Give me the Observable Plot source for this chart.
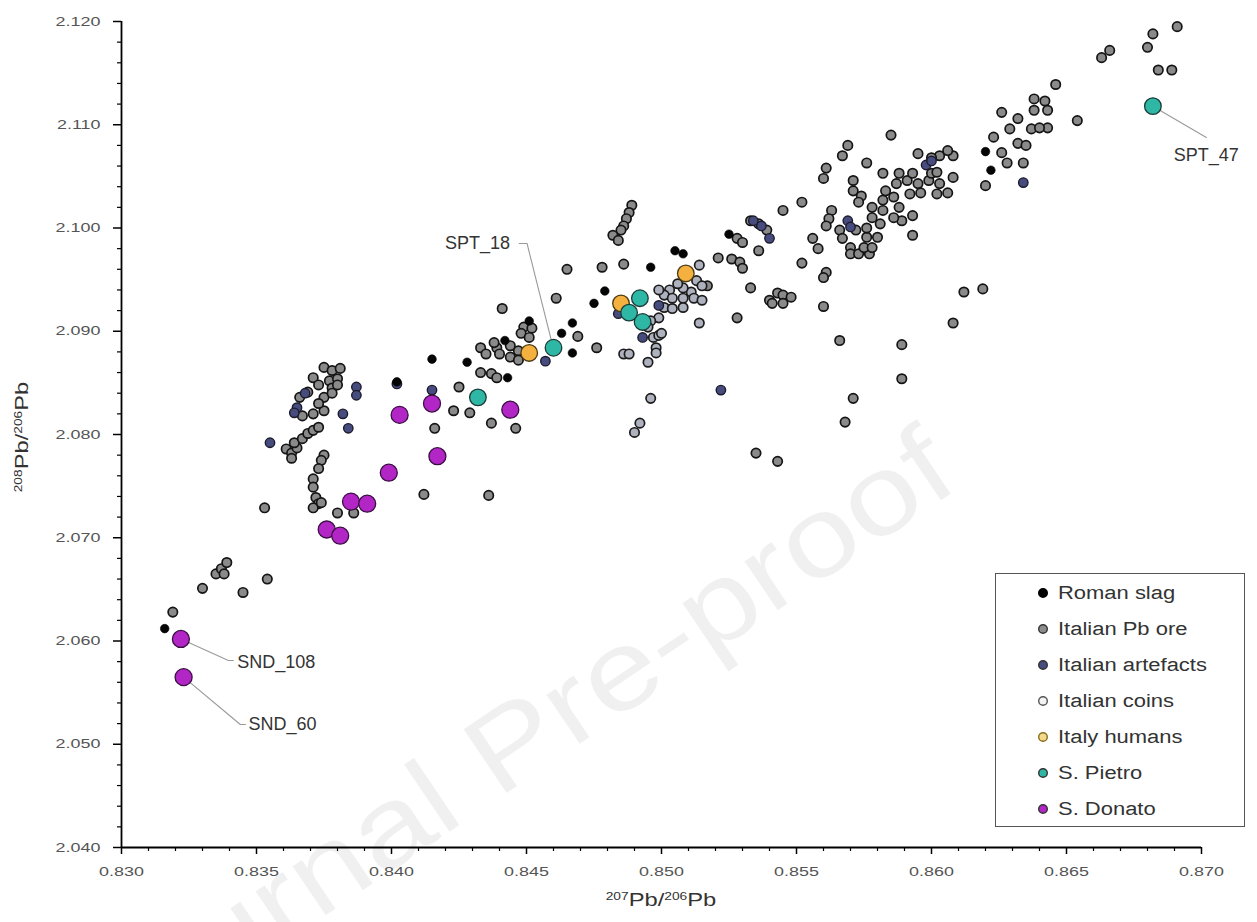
<!DOCTYPE html>
<html>
<head>
<meta charset="utf-8">
<script src="https://cdn.jsdelivr.net/npm/d3@7"></script>
<script src="https://cdn.jsdelivr.net/npm/@observablehq/plot@0.6"></script>
<style>
html, body { margin: 0; padding: 0; background: #fff; }
#wrap { position: relative; width: 1257px; height: 922px; overflow: hidden; font-family: "Liberation Sans", Arial, sans-serif; }
#wrap > svg.chart { position: absolute; left: 0; top: 0; }
.legend { position: absolute; left: 995px; top: 573px; width: 250px; height: 254px; border: 1.5px solid #555; box-sizing: border-box; background: #fff; }
.legend .row { position: absolute; left: 0; height: 24px; width: 250px; }
.legend .row svg { position: absolute; left: 37px; top: 2px; }
.legend .row span { position: absolute; left: 62px; top: 0; line-height: 24px; font-size: 18px; color: #333; white-space: nowrap; transform: scaleX(1.22); transform-origin: 0 50%; }
.atitle { position: absolute; height: 26px; line-height: 26px; text-align: center; font-size: 19px; color: #333; white-space: nowrap; }
.atitle sup { font-size: 11px; vertical-align: 0.55em; line-height: 0; }
.wm { position: absolute; left: 0; top: 0; pointer-events: none; }
</style>
</head>
<body>
<div id="wrap"></div>
<script>
// ---------- data ----------
const romanSlag = [
  [0.8316,2.0612],[0.8402,2.0851],[0.8415,2.0873],[0.8428,2.0870],[0.8442,2.0891],[0.8443,2.0855],
  [0.8451,2.0910],[0.8463,2.0898],[0.8467,2.0908],[0.8467,2.0879],[0.8475,2.0927],[0.8479,2.0939],
  [0.8496,2.0962],[0.8508,2.0975],[0.8505,2.0978],[0.8525,2.0994],[0.8620,2.1074],[0.8622,2.1056]
];
const italianOre = [
  [0.8319,2.0628],[0.8330,2.0651],[0.8335,2.0665],[0.8337,2.0670],[0.8339,2.0676],[0.8338,2.0665],[0.8345,2.0647],[0.8354,2.0660],[0.8353,2.0729],
  [0.8361,2.0786],[0.8363,2.0782],[0.8365,2.0787],[0.8364,2.0792],[0.8367,2.0796],[0.8369,2.0801],[0.8371,2.0804],[0.8373,2.0807],[0.8363,2.0777],
  [0.8375,2.0780],[0.8374,2.0775],[0.8373,2.0767],[0.8371,2.0757],[0.8371,2.0749],[0.8372,2.0739],[0.8373,2.0733],[0.8371,2.0729],[0.8374,2.0734],[0.8380,2.0724],[0.8386,2.0724],
  [0.8371,2.0855],[0.8375,2.0865],[0.8378,2.0862],[0.8381,2.0864],[0.8377,2.0852],[0.8380,2.0854],[0.8378,2.0845],[0.8375,2.0836],[0.8375,2.0823],[0.8373,2.0830],[0.8371,2.0820],[0.8367,2.0818],[0.8366,2.0836],[0.8369,2.0841],[0.8373,2.0848],[0.8378,2.0840],[0.8380,2.0848],
  [0.8412,2.0742],[0.8425,2.0846],[0.8423,2.0823],[0.8429,2.0821],[0.8437,2.0811],[0.8446,2.0806],[0.8416,2.0806],[0.8436,2.0741],
  [0.8489,2.1022],[0.8488,2.1015],[0.8487,2.1009],[0.8486,2.1002],[0.8485,2.0998],[0.8482,2.0993],[0.8484,2.0988],
  [0.8465,2.0960],[0.8478,2.0962],[0.8486,2.0965],[0.8461,2.0932],[0.8441,2.0922],[0.8469,2.0895],[0.8476,2.0884],
  [0.8449,2.0904],[0.8452,2.0903],[0.8448,2.0898],[0.8451,2.0894],[0.8444,2.0886],[0.8447,2.0881],[0.8444,2.0875],[0.8447,2.0872],[0.8439,2.0884],[0.8438,2.0889],[0.8433,2.0884],[0.8435,2.0878],[0.8440,2.0878],[0.8433,2.0860],[0.8437,2.0859],[0.8439,2.0855],
  [0.8528,2.0913],[0.8533,2.0942],[0.8521,2.0971],[0.8526,2.0970],[0.8529,2.0967],[0.8530,2.0961],[0.8528,2.0990],[0.8533,2.1007],[0.8536,2.1004],[0.8539,2.0998],[0.8536,2.0978],[0.8540,2.0930],[0.8543,2.0937],[0.8530,2.0986],[0.8517,2.0944],
  [0.8545,2.0935],[0.8548,2.0933],[0.8541,2.0927],[0.8545,2.0927],[0.8556,2.0990],[0.8558,2.0980],[0.8552,2.0966],[0.8561,2.0957],[0.8560,2.0952],[0.8560,2.0924],[0.8566,2.0891],[0.8589,2.0887],[0.8589,2.0854],[0.8571,2.0835],[0.8568,2.0812],[0.8535,2.0782],[0.8543,2.0774],[0.8612,2.0938],[0.8608,2.0908],[0.8619,2.0941],
  [0.8569,2.1080],[0.8567,2.1070],[0.8561,2.1058],[0.8560,2.1048],[0.8576,2.1063],[0.8582,2.1053],[0.8571,2.1046],[0.8571,2.1036],[0.8574,2.1031],[0.8573,2.1025],[0.8552,2.1025],[0.8545,2.1017],[0.8563,2.1017],[0.8562,2.1009],[0.8561,2.1002],[0.8566,2.0998],[0.8567,2.0990],[0.8570,2.0981],[0.8570,2.0975],[0.8573,2.0975],[0.8577,2.0975],[0.8575,2.0981],[0.8578,2.0981],[0.8576,2.0991],[0.8580,2.0991],[0.8572,2.0998],[0.8576,2.1000],[0.8581,2.1004],[0.8578,2.1010],[0.8582,2.1017],[0.8578,2.1020],[0.8582,2.1027],[0.8586,2.1030],[0.8583,2.1036],[0.8587,2.1043],[0.8588,2.1053],[0.8591,2.1046],[0.8593,2.1053],[0.8595,2.1043],[0.8592,2.1033],[0.8588,2.1020],[0.8589,2.1007],[0.8586,2.1010],[0.8593,2.1012],[0.8593,2.0993],[0.8596,2.1034],[0.8599,2.1046],[0.8600,2.1053],[0.8603,2.1043],[0.8602,2.1033],[0.8606,2.1034],[0.8608,2.1049],[0.8595,2.1072],[0.8603,2.1070],[0.8608,2.1070],[0.8606,2.1075],
  [0.8646,2.1139],[0.8638,2.1125],[0.8642,2.1123],[0.8638,2.1114],[0.8643,2.1114],[0.8626,2.1112],[0.8632,2.1106],[0.8629,2.1096],[0.8637,2.1096],[0.8643,2.1097],[0.8640,2.1097],[0.8654,2.1104],[0.8623,2.1088],[0.8632,2.1082],[0.8635,2.1080],[0.8626,2.1073],[0.8628,2.1063],[0.8634,2.1063],[0.8620,2.1041],
  [0.8663,2.1165],[0.8666,2.1172],[0.8680,2.1175],[0.8682,2.1188],[0.8691,2.1195],[0.8684,2.1153],[0.8689,2.1153],[0.8585,2.1090],[0.8600,2.1068],[0.8602,2.1054]
];
const italianArtefacts = [
  [0.8355,2.0792],[0.8387,2.0846],[0.8387,2.0838],[0.8382,2.0820],[0.8384,2.0806],[0.8365,2.0826],[0.8368,2.0840],[0.8364,2.0821],
  [0.8402,2.0849],[0.8415,2.0843],[0.8457,2.0871],[0.8484,2.0917],[0.8493,2.0894],[0.8499,2.0925],[0.8540,2.0990],[0.8537,2.1002],
  [0.8534,2.1007],[0.8569,2.1007],[0.8570,2.1001],[0.8598,2.1061],[0.8600,2.1065],[0.8522,2.0843],[0.8634,2.1044]
];
const italianCoins = [
  [0.8514,2.0964],[0.8513,2.0949],[0.8515,2.0944],[0.8511,2.0938],[0.8508,2.0942],[0.8506,2.0946],[0.8503,2.0940],[0.8501,2.0935],
  [0.8499,2.0940],[0.8504,2.0932],[0.8508,2.0932],[0.8512,2.0932],[0.8515,2.0930],[0.8501,2.0923],[0.8504,2.0922],[0.8508,2.0923],
  [0.8499,2.0913],[0.8496,2.0910],[0.8495,2.0904],[0.8497,2.0894],[0.8499,2.0896],[0.8498,2.0884],[0.8495,2.0870],[0.8496,2.0835],
  [0.8492,2.0811],[0.8490,2.0802],[0.8486,2.0878],[0.8488,2.0878],[0.8514,2.0908],[0.8498,2.0879],[0.8500,2.0898]
];
const italyHumans = [[0.8451,2.0879],[0.8509,2.0956],[0.8485,2.0927]];
const sPietro = [[0.8460,2.0884],[0.8492,2.0932],[0.8488,2.0918],[0.8493,2.0909],[0.8432,2.0836],[0.8682,2.1118]];
const sDonato = [
  [0.8322,2.0602],[0.8323,2.0565],[0.8376,2.0708],[0.8381,2.0702],[0.8385,2.0735],[0.8391,2.0733],
  [0.8399,2.0763],[0.8403,2.0819],[0.8415,2.0830],[0.8417,2.0779],[0.8444,2.0824]
];
const xTicks = [0.830, 0.835, 0.840, 0.845, 0.850, 0.855, 0.860, 0.865, 0.870];
const yTicks = [2.040, 2.050, 2.060, 2.070, 2.080, 2.090, 2.100, 2.110, 2.120];
const xTitle = "<sup>207</sup>Pb/<sup>206</sup>Pb";
const yTitle = "<sup>208</sup>Pb/<sup>206</sup>Pb";
const labelText = ["SPT_18", "SPT_47", "SND_108", "SND_60"];
const labelX = [0.84439, 0.87018, 0.83429, 0.83470];
const labelY = [2.0985, 2.10702, 2.05792, 2.05191];
const labelAnchor = ["end", "middle", "start", "start"];
const leaderLines = [
  [[0.84473,2.0985],[0.84502,2.0985],[0.84595,2.0888]],
  [[0.8682,2.1118],[0.87018,2.10877]],
  [[0.8322,2.0602],[0.83396,2.05811],[0.83414,2.05811]],
  [[0.8323,2.0565],[0.83440,2.05191],[0.83459,2.05191]]
];

// ---------- series styles ----------
const series = [
  {name: "Roman slag", data: romanSlag, fill: "#050505", stroke: "#000", r: 4.3, sw: 0.6},
  {name: "Italian Pb ore", data: italianOre, fill: "#8a8a8a", stroke: "#141414", r: 4.7, sw: 1.7},
  {name: "Italian artefacts", data: italianArtefacts, fill: "#474c7e", stroke: "#1b1b2b", r: 4.7, sw: 1.4},
  {name: "Italian coins", data: italianCoins, fill: "#aeb2bf", stroke: "#1c1c1c", r: 4.7, sw: 1.7},
  {name: "Italy humans", data: italyHumans, fill: "#f5b13f", stroke: "#4a3a12", r: 8.3, sw: 1.3},
  {name: "S. Pietro", data: sPietro, fill: "#2fb7a6", stroke: "#1c3a36", r: 8.3, sw: 1.3},
  {name: "S. Donato", data: sDonato, fill: "#b226c6", stroke: "#3a0f42", r: 8.5, sw: 1.3}
];
const drawOrder = ["Italian Pb ore", "Italian coins", "Italian artefacts", "Roman slag", "Italy humans", "S. Pietro", "S. Donato"];

const rows = series.flatMap(s => s.data.map(([x, y]) => ({x, y, group: s.name})));
const labels = labelText.map((t, i) => ({text: t, x: labelX[i], y: labelY[i], anchor: labelAnchor[i]}));
const leaders = leaderLines.flatMap((pts, i) => pts.map(([x, y]) => ({x, y, id: i})));

const xMinor = d3.range(41).filter(i => i % 5 !== 0).map(i => 0.830 + i * 0.001);
const yMinor = d3.range(41).filter(i => i % 5 !== 0).map(i => 2.040 + i * 0.002);
const fmt = d3.format(".3f");
const tickFont = "Liberation Sans, Arial, sans-serif";

const dotMarks = drawOrder.map(name => {
  const s = series.find(d => d.name === name);
  return Plot.dot(rows.filter(d => d.group === name), {x: "x", y: "y", r: s.r, fill: s.fill, stroke: s.stroke, strokeWidth: s.sw});
});
const labelMarks = ["start", "middle", "end"].map(a =>
  Plot.text(labels.filter(d => d.anchor === a), {x: "x", y: "y", text: "text", textAnchor: a, fontSize: 18, fill: "#333", fontFamily: tickFont, ariaLabel: "annotation"})
);

const chart = Plot.plot({
  width: 1257, height: 922,
  marginLeft: 121, marginRight: 56, marginTop: 21, marginBottom: 75,
  x: {domain: [0.830, 0.870]},
  y: {domain: [2.040, 2.120]},
  className: "chart",
  style: {background: "transparent", overflow: "visible"},
  marks: [
    Plot.axisX({ticks: xMinor, tickSize: 4, tickFormat: () => "", label: null, strokeWidth: 1.2}),
    Plot.axisX({ticks: xTicks, tickSize: 7, tickFormat: () => "", label: null, strokeWidth: 1.5}),
    Plot.axisX({ticks: xTicks, tickSize: 0, tickPadding: 19, tickFormat: fmt, label: null, color: "#555", fontSize: 13, fontFamily: tickFont}),
    Plot.axisY({ticks: yMinor, tickSize: 4, tickFormat: () => "", label: null, strokeWidth: 1.2}),
    Plot.axisY({ticks: yTicks, tickSize: 8, tickFormat: () => "", label: null, strokeWidth: 1.5}),
    Plot.axisY({ticks: yTicks, tickSize: 0, tickPadding: 21, tickFormat: fmt, label: null, color: "#555", fontSize: 13, fontFamily: tickFont}),
    Plot.ruleX([0.830], {y1: 2.040, y2: 2.120, stroke: "#000", strokeWidth: 1.8}),
    Plot.ruleY([2.040], {x1: 0.830, x2: 0.870, stroke: "#000", strokeWidth: 1.8}),
    Plot.line(leaders, {x: "x", y: "y", z: "id", stroke: "#9a9a9a", strokeWidth: 1.1}),
    ...dotMarks,
    ...labelMarks
  ]
});

// horizontal stretch of texts (the reference typography is wide)
function stretch(sel, k) {
  chart.querySelectorAll(sel).forEach(t => {
    const tr = t.getAttribute("transform") || "";
    let extra = "";
    const xa = t.getAttribute("x"), ya = t.getAttribute("y");
    if (xa != null && !isNaN(+xa)) { extra += ` translate(${+xa},0)`; t.removeAttribute("x"); }
    if (ya != null && !isNaN(+ya)) { extra += ` translate(0,${+ya})`; t.removeAttribute("y"); }
    t.setAttribute("transform", `${tr}${extra} scale(${k},1)`);
  });
}
stretch('g[aria-label="x-axis tick label"] text', 1.38);
stretch('g[aria-label="y-axis tick label"] text', 1.38);
stretch('g[aria-label="annotation"] text', 1.23);

const wrap = document.getElementById("wrap");
wrap.appendChild(chart);

// axis titles
const xt = document.createElement("div");
xt.className = "atitle";
xt.style.cssText = "left:511px;top:887px;width:300px;transform:scaleX(1.25);";
xt.innerHTML = xTitle;
wrap.appendChild(xt);
const yt = document.createElement("div");
yt.className = "atitle";
yt.style.cssText = "left:-128px;top:424px;width:300px;transform:rotate(-90deg) scaleX(1.25);";
yt.innerHTML = yTitle;
wrap.appendChild(yt);

// legend
const legendOrder = ["Roman slag", "Italian Pb ore", "Italian artefacts", "Italian coins", "Italy humans", "S. Pietro", "S. Donato"];
const legendFill = {"Roman slag": "#000", "Italian Pb ore": "#8d8d8d", "Italian artefacts": "#474c7e", "Italian coins": "#f4f4f4", "Italy humans": "#f3d98a", "S. Pietro": "#2fb7a6", "S. Donato": "#b226c6"};
const legendStroke = {"Roman slag": "#000", "Italian Pb ore": "#333", "Italian artefacts": "#333", "Italian coins": "#555", "Italy humans": "#8a6d20", "S. Pietro": "#333", "S. Donato": "#333"};
const legend = document.createElement("div");
legend.className = "legend";
legendOrder.forEach((name, i) => {
  const row = document.createElement("div");
  row.className = "row";
  row.style.top = (19 + i * 36 - 12) + "px";
  row.innerHTML = `<svg width="20" height="20"><circle cx="10" cy="10" r="4.3" fill="${legendFill[name]}" stroke="${legendStroke[name]}" stroke-width="1.4"/></svg><span>${name}</span>`;
  legend.appendChild(row);
});
wrap.appendChild(legend);

// watermark
const wm = document.createElementNS("http://www.w3.org/2000/svg", "svg");
wm.setAttribute("class", "wm");
wm.setAttribute("width", 1257);
wm.setAttribute("height", 922);
wm.innerHTML = `<text transform="translate(962,486) rotate(-34) scale(1.2,1)" text-anchor="end" font-family="Liberation Sans, Arial, sans-serif" font-size="112" fill="rgba(0,0,0,0.06)">Journal Pre-proof</text>`;
wrap.appendChild(wm);
</script>
</body>
</html>
